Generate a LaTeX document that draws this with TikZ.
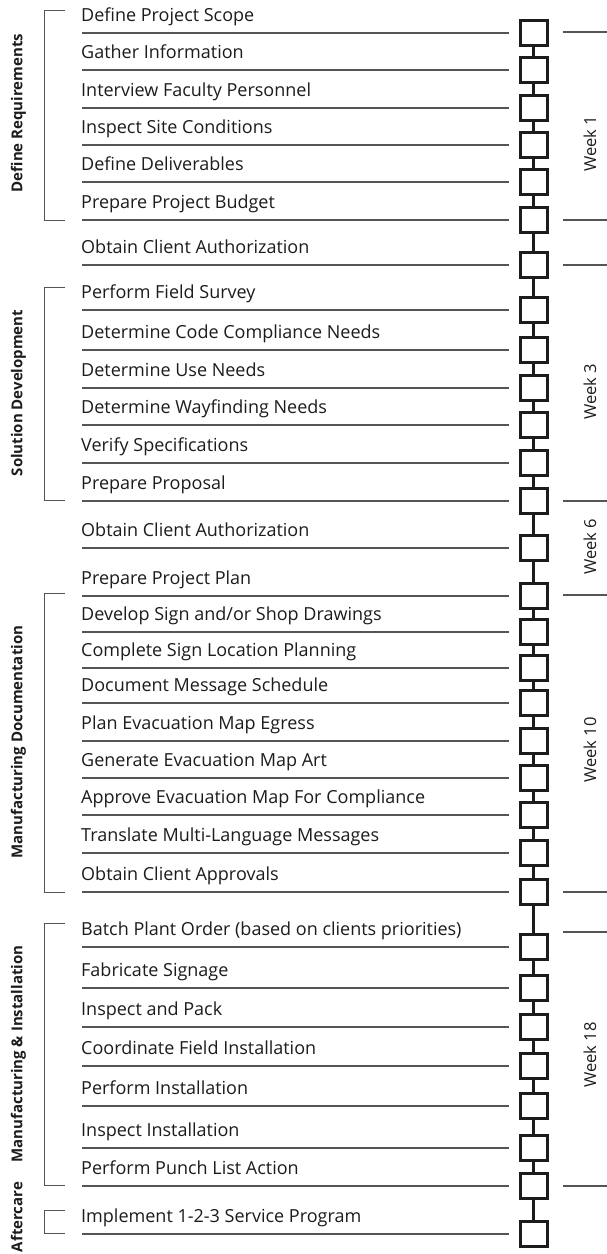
\documentclass[tikz,border=0pt]{standalone}
\usepackage{fontspec}
\setmainfont{Open Sans}
\definecolor{ink}{RGB}{30,27,28}
\definecolor{rulec}{RGB}{85,85,85}
\begin{document}
\begin{tikzpicture}[x=1pt,y=-1pt,
  task/.style={anchor=base west, font=\fontsize{18}{20}\selectfont, text=ink, inner sep=0pt},
  stepbox/.style={draw=ink, line width=3pt, fill=white, minimum width=27pt, minimum height=25pt, inner sep=0pt},
  hline/.style={draw=rulec, line width=1.1pt},
  conn/.style={draw=ink, line width=3pt},
  grp/.style={rotate=90, anchor=base, font=\bfseries\fontsize{15}{18}\selectfont, text=ink, inner sep=0pt},
  wk/.style={rotate=90, anchor=base, font=\fontsize{16.5}{18}\selectfont, text=ink, inner sep=0pt},
  brk/.style={draw=rulec, line width=1pt},
  tick/.style={draw=rulec, line width=1.1pt}]
\useasboundingbox (0,0) rectangle (607,1254);
\fill[white] (0,0) rectangle (607,1254);

% tasks: y position of rule / text
\foreach \y/\t [count=\i] in {
  33/{Define Project Scope},
  70/{Gather Information},
  108/{Interview Faculty Personnel},
  145/{Inspect Site Conditions},
  182/{Define Deliverables},
  220/{Prepare Project Budget},
  265/{Obtain Client Authorization},
  310/{Perform Field Survey},
  350/{Determine Code Compliance Needs},
  388/{Determine Use Needs},
  425/{Determine Wayfinding Needs},
  463/{Verify Specifications},
  501/{Prepare Proposal},
  548/{Obtain Client Authorization},
  596/{Prepare Project Plan},
  632/{Develop Sign and/or Shop Drawings},
  668/{Complete Sign Location Planning},
  703/{Document Message Schedule},
  741/{Plan Evacuation Map Egress},
  778/{Generate Evacuation Map Art},
  815/{Approve Evacuation Map For Compliance},
  853/{Translate Multi-Language Messages},
  892/{Obtain Client Approvals},
  947/{Batch Plant Order (based on clients priorities)},
  988/{Fabricate Signage},
  1027/{Inspect and Pack},
  1066/{Coordinate Field Installation},
  1106/{Perform Installation},
  1148/{Inspect Installation},
  1186/{Perform Punch List Action},
  1234/{Implement 1-2-3 Service Program}} {
  \node[task] (t\i) at (81,\y-11.5) {\t};
  \coordinate (l\i) at (82,\y);
  \coordinate (r\i) at (509,\y);
  \draw[hline] (l\i) -- (r\i);
  \node[stepbox] (b\i) at (533.5,\y) {};
}
% connectors between steps
\foreach \i [evaluate=\i as \j using int(\i+1)] in {1,...,30} {
  \draw[conn] (b\i.south) -- (b\j.north);
}

% group brackets
\draw[brk] (65,10) -- (44,10) -- (44,220) -- (65,220);
\draw[brk] (65,287) -- (44,287) -- (44,500) -- (65,500);
\draw[brk] (65,593) -- (44,593) -- (44,892) -- (65,892);
\draw[brk] (65,923) -- (44,923) -- (44,1185) -- (65,1185);
\draw[brk] (65,1210) -- (44,1210) -- (44,1233) -- (65,1233);

\node[grp] (g1) at (22.5,113) {Define Requirements};
\node[grp] (g2) at (22.5,393) {Solution Development};
\node[grp] (g3) at (22.5,742) {Manufacturing Documentation};
\node[grp] (g4) at (22.5,1054) {Manufacturing \& Installation};
\node[grp] (g5) at (22.5,1217) {Aftercare};

% week ticks
\foreach \y in {32,220,265,501,595,892,932,1186} {
  \draw[tick] (563,\y) -- (607,\y);
}
\node[wk] (w1) at (596,144) {Week 1};
\node[wk] (w3) at (596,392) {Week 3};
\node[wk] (w6) at (596,547) {Week 6};
\node[wk] (w10) at (596,750) {Week 10};
\node[wk] (w18) at (596,1055) {Week 18};
\end{tikzpicture}
\end{document}
